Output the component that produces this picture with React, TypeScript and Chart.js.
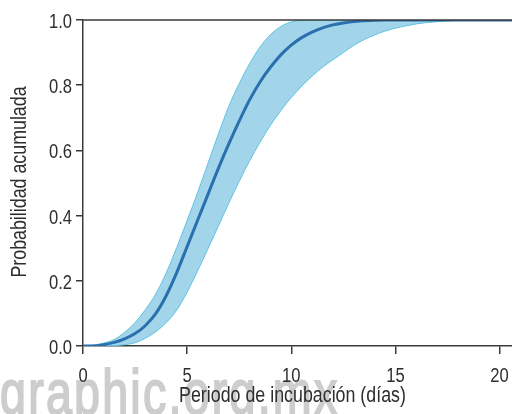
import React, { useEffect, useRef } from "react";
import { Chart, registerables } from "chart.js";

Chart.register(...registerables);

const DAYS = [0, 0.5, 1, 1.5, 2, 2.5, 3, 3.5, 4, 4.5, 5, 5.5, 6, 6.5, 7, 7.5, 8, 8.5, 9, 9.5, 10, 10.5, 11, 11.5, 12, 12.5, 13, 13.5, 14, 14.5, 15, 15.5, 16, 16.5, 17, 17.5, 18, 18.5, 19, 19.5, 20, 20.6];
const MEDIAN = [0, 0, 0.004, 0.011, 0.022, 0.038, 0.063, 0.1, 0.155, 0.225, 0.305, 0.385, 0.465, 0.545, 0.62, 0.69, 0.755, 0.81, 0.855, 0.893, 0.923, 0.946, 0.963, 0.976, 0.985, 0.991, 0.995, 0.998, 0.999, 1, 1, 1, 1, 1, 1, 1, 1, 1, 1, 1, 1, 1];
const UPPER = [0, 0.003, 0.009, 0.02, 0.042, 0.072, 0.112, 0.16, 0.225, 0.302, 0.385, 0.47, 0.56, 0.65, 0.735, 0.805, 0.866, 0.917, 0.955, 0.98, 0.994, 0.999, 1, 1, 1, 1, 1, 1, 1, 1, 1, 1, 1, 1, 1, 1, 1, 1, 1, 1, 1, 1];
const LOWER = [0, 0, 0, 0.001, 0.004, 0.01, 0.024, 0.044, 0.072, 0.11, 0.165, 0.23, 0.298, 0.368, 0.438, 0.505, 0.568, 0.625, 0.677, 0.722, 0.762, 0.797, 0.828, 0.855, 0.878, 0.9, 0.922, 0.94, 0.954, 0.966, 0.975, 0.982, 0.988, 0.992, 0.995, 0.997, 0.999, 1, 1, 1, 1, 1];
const X_TICKS = [0, 5, 10, 15, 20];
const Y_TICKS = [0, 0.2, 0.4, 0.6, 0.8, 1.0];
const X_TITLE = "Periodo de incubación (días)";
const Y_TITLE = "Probabilidad acumulada";
const WATERMARK = "graphic.org.mx";

const FONT = "'Liberation Sans', Arial, Helvetica, sans-serif";
const AXIS = "#3a3a3a";
const TEXT = "#2e2e2e";
const NARROW = 0.81;

const pts = (ys: number[]) => DAYS.map((x, i) => ({ x, y: ys[i] }));

function narrowText(ctx: CanvasRenderingContext2D, text: string, x: number, y: number, align: CanvasTextAlign, rotate = 0) {
  ctx.save();
  ctx.translate(x, y);
  if (rotate) ctx.rotate(rotate);
  ctx.scale(NARROW, 1);
  ctx.textAlign = align;
  ctx.textBaseline = "alphabetic";
  ctx.fillText(text, 0, 0);
  ctx.restore();
}

const axisText = {
  id: "axisText",
  afterDraw(chart: any) {
    const { ctx, chartArea } = chart;
    const xs = chart.scales.x;
    const ys = chart.scales.y;
    ctx.save();
    ctx.fillStyle = TEXT;
    // top frame line at y = 1
    ctx.strokeStyle = AXIS;
    ctx.lineWidth = 1.5;
    ctx.beginPath();
    ctx.moveTo(chartArea.left, ys.getPixelForValue(1));
    ctx.lineTo(chartArea.right, ys.getPixelForValue(1));
    ctx.stroke();
    // tick labels
    ctx.font = `20.5px ${FONT}`;
    X_TICKS.forEach((v) => narrowText(ctx, String(v), xs.getPixelForValue(v), chartArea.bottom + 36, "center"));
    Y_TICKS.forEach((v) => narrowText(ctx, v.toFixed(1), chartArea.left - 11, ys.getPixelForValue(v) + 8, "right"));
    // titles
    ctx.font = `22px ${FONT}`;
    narrowText(ctx, X_TITLE, (chartArea.left + chartArea.right) / 2 - 5, chartArea.bottom + 56, "center");
    narrowText(ctx, Y_TITLE, 26, (chartArea.top + chartArea.bottom) / 2 - 1, "center", -Math.PI / 2);
    ctx.restore();
  },
};

export default function App() {
  const ref = useRef<HTMLCanvasElement | null>(null);
  useEffect(() => {
    if (!ref.current) return;
    const chart = new Chart(ref.current, {
      type: "line",
      data: {
        datasets: [
          {
            data: pts(MEDIAN),
            borderColor: "#2a6fae",
            borderWidth: 3,
            pointRadius: 0,
            fill: false,
            cubicInterpolationMode: "monotone",
          },
          {
            data: pts(LOWER),
            borderColor: "#5ec2e3",
            borderWidth: 1,
            pointRadius: 0,
            fill: false,
            cubicInterpolationMode: "monotone",
          },
          {
            data: pts(UPPER),
            borderColor: "#5ec2e3",
            borderWidth: 1,
            pointRadius: 0,
            fill: "-1",
            backgroundColor: "#a2d5e9",
            cubicInterpolationMode: "monotone",
          },
        ],
      },
      options: {
        animation: false,
        responsive: false,
        maintainAspectRatio: false,
        layout: { padding: { top: 20, right: 0, left: 0, bottom: 0 } },
        plugins: { legend: { display: false }, tooltip: { enabled: false } },
        scales: {
          x: {
            type: "linear",
            min: 0,
            max: 20.6,
            afterBuildTicks: (s: any) => {
              s.ticks = X_TICKS.map((v) => ({ value: v }));
            },
            afterFit: (s: any) => {
              s.height = 68;
            },
            ticks: { display: false },
            grid: { display: true, drawOnChartArea: false, drawTicks: true, tickLength: 8, color: AXIS, lineWidth: 1.5 },
            border: { display: true, color: AXIS, width: 1.5 },
            title: { display: false },
          },
          y: {
            type: "linear",
            min: 0,
            max: 1,
            afterBuildTicks: (s: any) => {
              s.ticks = Y_TICKS.map((v) => ({ value: v }));
            },
            afterFit: (s: any) => {
              s.width = 83;
            },
            ticks: { display: false },
            grid: { display: true, drawOnChartArea: false, drawTicks: true, tickLength: 7, color: AXIS, lineWidth: 1.5 },
            border: { display: true, color: AXIS, width: 1.5 },
            title: { display: false },
          },
        },
      },
      plugins: [axisText],
    });
    return () => chart.destroy();
  }, []);

  return (
    <div style={{ position: "fixed", left: 0, top: 0, width: 512, height: 414, background: "#fff", overflow: "hidden" }}>
      <div
        style={{
          position: "absolute",
          left: 0,
          top: 361,
          fontFamily: FONT,
          fontSize: 63,
          lineHeight: 1,
          color: "#cdcdcd",
          whiteSpace: "nowrap",
          letterSpacing: 3,
          WebkitTextStroke: "2px #cdcdcd",
          transform: "scaleX(0.74)",
          transformOrigin: "0 0",
        }}
      >
        {WATERMARK}
      </div>
      <canvas ref={ref} width={512} height={414} style={{ position: "absolute", left: 0, top: 0, width: 512, height: 414 }} />
    </div>
  );
}
